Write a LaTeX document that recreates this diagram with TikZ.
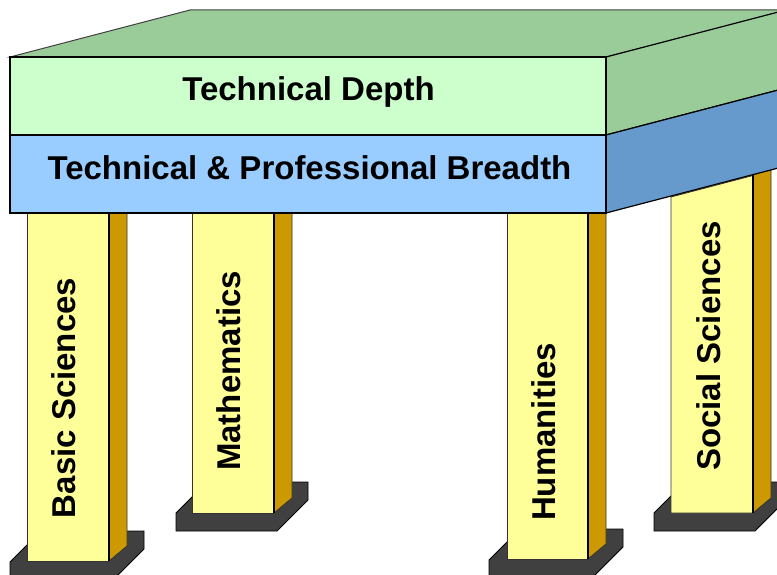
\documentclass[tikz,border=0pt]{standalone}
\usepackage{fontspec}
\setmainfont{Liberation Sans}
\definecolor{gfront}{HTML}{CCFFCC}
\definecolor{gtop}{HTML}{99CC99}
\definecolor{bfront}{HTML}{99CCFF}
\definecolor{bside}{HTML}{6699CC}
\definecolor{legfront}{HTML}{FFFF99}
\definecolor{legside}{HTML}{CC9900}
\definecolor{basecol}{HTML}{404040}
\tikzset{
  lbl/.style={inner sep=0pt, text height=23.6pt, text depth=0pt,
    font=\fontsize{33}{40}\selectfont\bfseries},
  slabline/.style={draw=black, line width=1.4pt},
  legf/.style={fill=legfront, draw=black!80, line width=0.8pt},
  legs/.style={fill=legside, draw=black!80, line width=0.8pt},
}
\newcommand{\baseplate}[3]{% x1, x2, ytop
  \filldraw[fill=basecol, draw=black, line width=0.8pt] (#1,#3+18) -- (#1,#3) -- (#1+31,#3-31) -- (#2+31,#3-31) -- (#2+31,#3-13) -- (#2,#3+18) -- cycle;
}
\newcommand{\legpost}[5]{% xl, xr, ytop-left, ytop-right, ybot
  \filldraw[legs] (#2,#4) -- (#2+18,#4-15) -- (#2+18,#5-15) -- (#2,#5) -- cycle;
  \filldraw[legf] (#1,#3) -- (#2,#4) -- (#2,#5) -- (#1,#5) -- cycle;
  \draw[black, line width=1.8pt] (#2,#4) -- (#2,#5);
}
\begin{document}
\begin{tikzpicture}[x=1pt,y=-1pt]
\useasboundingbox (0,0) rectangle (777,575);
\fill[white] (0,0) rectangle (777,575);
\clip (0,0) rectangle (777,575);
% base plates
\baseplate{10}{113}{562}
\baseplate{176}{277}{513}
\baseplate{489}{592}{560}
\baseplate{654}{755}{513}
% legs
\legpost{27}{109}{213}{213}{561}
\legpost{192}{274}{213}{213}{513}
\legpost{507}{588}{213}{213}{559}
\legpost{671}{753}{197}{175.5}{513}
% slab
\coordinate (FTL) at (10,57);
\coordinate (FTR) at (606,57);
\coordinate (FML) at (10,135);
\coordinate (FMR) at (606,135);
\coordinate (FBL) at (10,213);
\coordinate (FBR) at (606,213);
\filldraw[fill=gtop, draw=black!75, line width=1pt] (FTL) -- (190,10) -- (790,10) -- (FTR) -- cycle;
\filldraw[fill=gtop, draw=black, line width=1.2pt] (FTR) -- (786,10) -- (786,88) -- (FMR) -- cycle;
\filldraw[fill=bside, draw=black, line width=1.2pt] (FMR) -- (786,88) -- (786,166) -- (FBR) -- cycle;
\filldraw[fill=gfront, slabline] (FTL) rectangle (FMR);
\filldraw[fill=bfront, slabline] (FML) rectangle (FBR);
\draw[black, line width=2pt] (FTR) -- (FBR);
% labels
\node[lbl] (depth) at (308.5,88.7) {Technical Depth};
\node[lbl] (breadth) at (309.5,167.5) {Technical \& Professional Breadth};
\node[lbl, rotate=90] (basic) at (64,398) {Basic Sciences};
\node[lbl, rotate=90] (math) at (229,371) {Mathematics};
\node[lbl, rotate=90] (hum) at (544,432) {Humanities};
\node[lbl, rotate=90] (soc) at (709,346) {Social Sciences};
\end{tikzpicture}
\end{document}
